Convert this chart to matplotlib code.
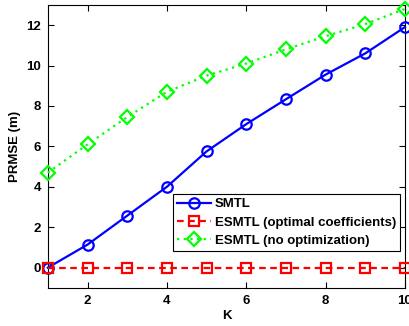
import matplotlib
matplotlib.use("Agg")
import matplotlib.pyplot as plt

K = [1, 2, 3, 4, 5, 6, 7, 8, 9, 10]
smtl = [0.0, 1.14, 2.57, 4.0, 5.75, 7.1, 8.33, 9.55, 10.6, 11.9]
esmtl_opt = [0, 0, 0, 0, 0, 0, 0, 0, 0, 0]
esmtl_noopt = [4.7, 6.1, 7.45, 8.7, 9.5, 10.1, 10.8, 11.45, 12.05, 12.8]
labels = ["SMTL", "ESMTL (optimal coefficients)", "ESMTL (no optimization)"]

plt.rcParams['font.family'] = ['Liberation Sans', 'DejaVu Sans']
plt.rcParams['font.weight'] = 'bold'

fig = plt.figure(figsize=(4.09, 3.26), dpi=100)
ax = fig.add_axes([0.117, 0.117, 0.873, 0.868])

ax.plot(K, smtl, color='#0000ff', linestyle='-', linewidth=1.6, marker='o',
        markersize=7.5, markerfacecolor='none', markeredgewidth=1.6, label=labels[0],
        clip_on=False, zorder=3)
ax.plot(K, esmtl_opt, color='#ff0000', linestyle=(0, (3, 2)), linewidth=1.6, marker='s',
        markersize=6.5, markerfacecolor='none', markeredgewidth=1.6, label=labels[1],
        clip_on=False, zorder=3)
ax.plot(K, esmtl_noopt, color='#00ff00', linestyle=(0, (1, 2)), linewidth=1.6, marker='D',
        markersize=7.5, markerfacecolor='none', markeredgewidth=1.6, label=labels[2],
        clip_on=False, zorder=3)

ax.set_xlim(1, 10)
ax.set_ylim(-1, 13)
ax.set_xticks([2, 4, 6, 8, 10])
ax.set_yticks([0, 2, 4, 6, 8, 10, 12])
ax.tick_params(direction='in', top=True, right=True, labelsize=9.5, length=4, width=0.8, pad=5)
for lab in ax.get_xticklabels() + ax.get_yticklabels():
    lab.set_fontweight('bold')
ax.set_xlabel('K', fontsize=9.5, fontweight='bold', labelpad=2)
ax.set_ylabel('PRMSE (m)', fontsize=9.5, fontweight='bold', labelpad=4)
for s in ax.spines.values():
    s.set_linewidth(0.8)

leg = ax.legend(loc='lower right', bbox_to_anchor=(0.986, 0.131), fontsize=9.5,
                frameon=True, fancybox=False, edgecolor='black', framealpha=1,
                handlelength=2.6, borderpad=0.3, labelspacing=0.45, handletextpad=0.25,
                borderaxespad=0)
leg.get_frame().set_linewidth(0.8)
for t in leg.get_texts():
    t.set_fontweight('bold')

fig.savefig('out.png', dpi=100)
